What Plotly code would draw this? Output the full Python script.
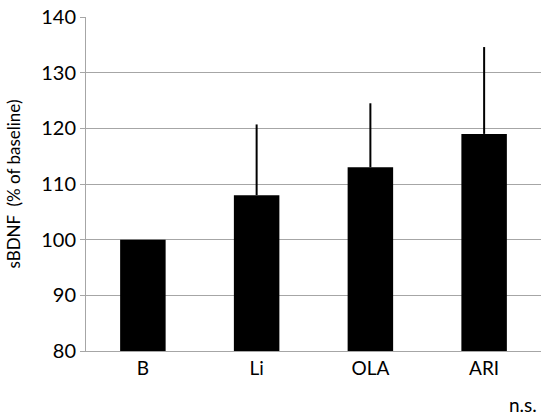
import plotly.graph_objects as go

# Serum BDNF by treatment group, % of baseline
groups = ["B", "Li", "OLA", "ARI"]
sbdnf_pct = [100, 108, 113, 119]
sbdnf_err_up = [0, 12.7, 11.5, 15.6]

y_ticks = [80, 90, 100, 110, 120, 130, 140]

grid_col = "#a6a6a6"
font_family = "Lato, 'Open Sans', sans-serif"

fig = go.Figure(
    go.Bar(
        x=groups,
        y=sbdnf_pct,
        marker=dict(color="black", line=dict(width=0)),
        width=0.4,
        error_y=dict(
            type="data",
            symmetric=False,
            array=sbdnf_err_up,
            arrayminus=[0] * len(groups),
            color="black",
            thickness=2,
            width=0,
        ),
    )
)

fig.update_layout(
    width=541,
    height=417,
    margin=dict(l=86, r=0, t=17, b=66),
    paper_bgcolor="white",
    plot_bgcolor="white",
    showlegend=False,
    font=dict(family=font_family, color="black"),
    xaxis=dict(
        showline=True,
        linecolor=grid_col,
        linewidth=1,
        ticks="",
        tickfont=dict(size=19),
        showgrid=False,
    ),
    yaxis=dict(
        range=[80, 140],
        tickvals=y_ticks,
        showgrid=True,
        gridcolor=grid_col,
        gridwidth=1,
        showline=True,
        linecolor=grid_col,
        linewidth=1,
        ticks="outside",
        ticklen=5,
        tickcolor=grid_col,
        tickfont=dict(size=20),
        zeroline=False,
        title=dict(
            text="sBDNF\u00a0\u00a0(% of baseline)",
            font=dict(size=17),
            standoff=16,
        ),
    ),
    annotations=[
        dict(
            text="n.s.",
            xref="paper",
            yref="paper",
            x=0.995,
            y=-0.16,
            xanchor="right",
            yanchor="middle",
            showarrow=False,
            font=dict(size=19, family=font_family),
        )
    ],
)

fig.write_html("out.html")
